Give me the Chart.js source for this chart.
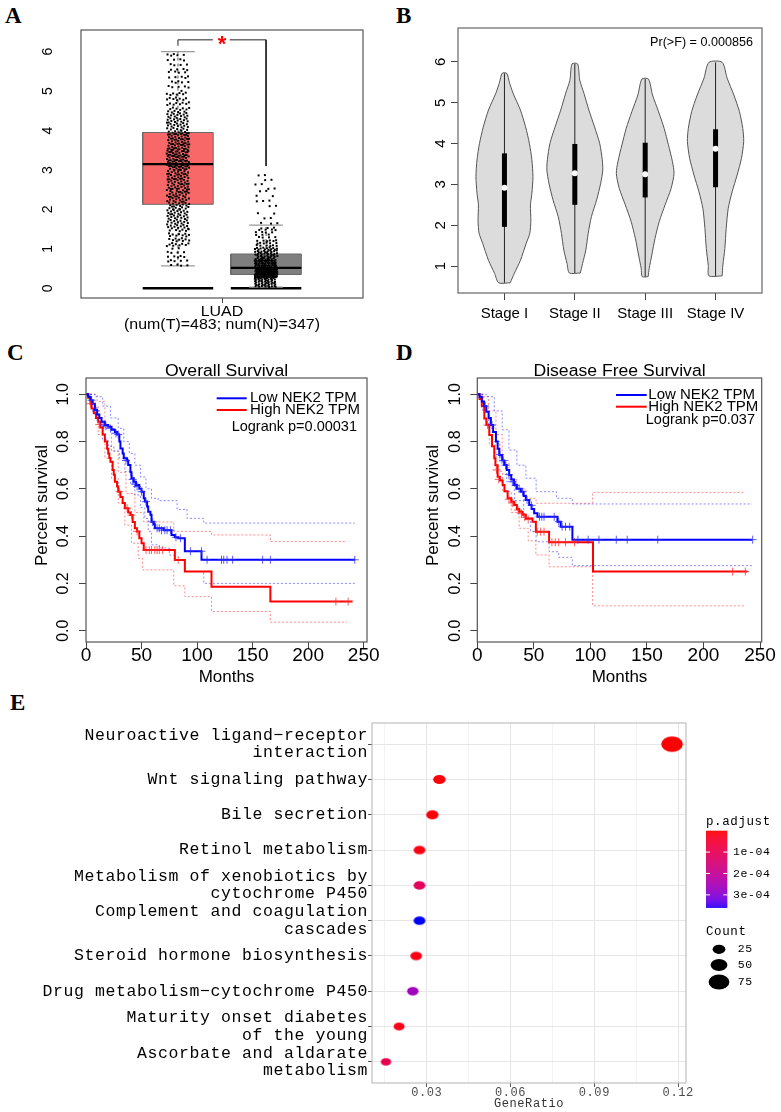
<!DOCTYPE html>
<html lang="en">
<head>
<meta charset="UTF-8" />
<title>NEK2 expression, survival and KEGG enrichment</title>
<script src="https://cdn.jsdelivr.net/npm/chart.js"></script>
<style>
  body { margin: 0; background: #fff; width: 781px; height: 1112px; position: relative; overflow: hidden; }
  canvas { position: absolute; }
  .tag { position: absolute; font: bold 23px "Liberation Serif", "DejaVu Serif", serif; line-height: 23px; color: #000; }
</style>
</head>
<body>
<div class="tag" style="left:5px;top:4px">A</div>
<div class="tag" style="left:396px;top:4px">B</div>
<div class="tag" style="left:7px;top:341px">C</div>
<div class="tag" style="left:396px;top:341px">D</div>
<div class="tag" style="left:10px;top:691px">E</div>

<canvas id="boxChart" width="390" height="340" style="left:0;top:0"></canvas>
<canvas id="violinChart" width="391" height="340" style="left:390px;top:0"></canvas>
<canvas id="osChart" width="390" height="350" style="left:0;top:340px"></canvas>
<canvas id="dfsChart" width="391" height="350" style="left:390px;top:340px"></canvas>
<canvas id="keggChart" width="781" height="422" style="left:0;top:690px"></canvas>

<script>
// ---------- A: NEK2 expression, LUAD tumour vs normal ----------
const groupLabel = 'LUAD';
const groupSub = '(num(T)=483; num(N)=347)';
// jitter points given as counts per expression bin
const tumorEdges = [0.57, 1, 1.5, 2, 2.5, 3, 3.5, 4, 4.5, 5, 5.5, 6.0];
const tumorCounts = [18, 35, 50, 55, 60, 80, 68, 50, 30, 20, 17];
const normalEdges = [0.03, 0.25, 0.5, 0.75, 1, 1.25, 1.5, 2, 2.5, 2.95];
const normalCounts = [45, 120, 70, 45, 25, 15, 10, 9, 8];
// min, q1, median, q3, max
const tumorBox = [0.57, 2.13, 3.15, 3.95, 6.0];
const normalBox = [0.03, 0.35, 0.52, 0.87, 1.6];
const sigLevel = 6.3;

// ---------- B: expression by stage ----------
const stages = ['Stage I', 'Stage II', 'Stage III', 'Stage IV'];
const vioY = [
  [0.59, 0.82, 1.14, 1.56, 1.8, 2.1, 2.5, 2.78, 3.19, 3.6, 4.0, 4.41, 4.82, 5.23, 5.5, 5.72],
  [0.83, 1.06, 1.39, 1.8, 2.21, 2.62, 3.03, 3.35, 3.6, 4.0, 4.41, 4.82, 5.23, 5.55, 5.95],
  [0.74, 0.94, 1.27, 1.68, 2.09, 2.5, 2.9, 3.27, 3.56, 3.97, 4.37, 4.78, 5.19, 5.58],
  [0.76, 1.02, 1.43, 1.92, 2.41, 2.82, 3.23, 3.64, 4.05, 4.37, 4.78, 5.19, 5.6, 5.99]
];
const vioW = [
  [0.082, 0.14, 0.227, 0.31, 0.36, 0.375, 0.37, 0.39, 0.405, 0.39, 0.355, 0.30, 0.227, 0.123, 0.07, 0.033],
  [0.078, 0.11, 0.156, 0.19, 0.236, 0.31, 0.368, 0.397, 0.39, 0.354, 0.28, 0.2, 0.13, 0.07, 0.04],
  [0.042, 0.057, 0.094, 0.14, 0.2, 0.283, 0.368, 0.41, 0.387, 0.33, 0.27, 0.19, 0.104, 0.047],
  [0.094, 0.104, 0.132, 0.151, 0.18, 0.236, 0.307, 0.368, 0.40, 0.387, 0.34, 0.26, 0.165, 0.094]
];
const stageQ1 = [1.96, 2.5, 2.68, 2.93];
const stageMed = [2.92, 3.27, 3.25, 3.87];
const stageQ3 = [3.76, 3.99, 4.02, 4.35];
const stageP = 'Pr(>F) = 0.000856';

// ---------- C: overall survival ----------
const osLow = [[0,1],[2,0.99],[4,0.975],[6,0.96],[8,0.934],[10,0.915],[12,0.9],[14,0.884],[17,0.87],[20,0.863],[23,0.85],[26,0.84],[28,0.83],[30,0.8],[31,0.771],[33,0.75],[34,0.729],[37,0.72],[38,0.701],[40,0.67],[41,0.645],[43,0.63],[45,0.616],[48,0.6],[50,0.588],[52,0.56],[53,0.546],[55,0.525],[56,0.503],[58,0.49],[59,0.461],[61,0.45],[62,0.433],[70,0.425],[77,0.405],[80,0.395],[83,0.391],[89,0.336],[104,0.3],[242,0.3]];
const osHigh = [[0,1],[2,0.985],[4,0.96],[5,0.94],[7,0.92],[9,0.9],[11,0.884],[13,0.86],[15,0.83],[17,0.8],[19,0.77],[20,0.75],[21,0.73],[22,0.715],[24,0.68],[25,0.66],[26,0.63],[28,0.61],[29,0.588],[31,0.565],[33,0.54],[35,0.518],[38,0.5],[40,0.489],[42,0.46],[44,0.433],[46,0.42],[48,0.391],[50,0.37],[52,0.341],[80,0.299],[89,0.25],[113,0.186],[166,0.123],[240,0.123]];
const osLowUp = [[0,1],[8,0.99],[15,0.95],[22,0.9],[29,0.856],[34,0.8],[39,0.75],[44,0.7],[49,0.65],[54,0.6],[59,0.56],[65,0.55],[82,0.513],[91,0.475],[106,0.455],[242,0.455]];
const osLowDn = [[0,1],[5,0.95],[10,0.88],[15,0.81],[20,0.78],[25,0.76],[30,0.73],[35,0.673],[40,0.62],[44,0.574],[49,0.52],[53,0.475],[56,0.42],[59,0.363],[66,0.35],[75,0.32],[80,0.3],[89,0.25],[106,0.2],[242,0.2]];
const osHighUp = [[0,1],[10,0.97],[17,0.86],[23,0.76],[29,0.67],[36,0.58],[44,0.5],[52,0.46],[79,0.42],[113,0.405],[166,0.377],[235,0.377]];
const osHighDn = [[0,1],[5,0.95],[11,0.83],[17,0.73],[23,0.645],[29,0.54],[35,0.447],[41,0.37],[47,0.306],[51,0.257],[79,0.19],[89,0.144],[113,0.081],[166,0.036],[235,0.036]];
const osLowCens = [[5,0.975],[9,0.93],[16,0.87],[18,0.865],[22,0.855],[27,0.835],[29,0.83],[36,0.72],[42,0.64],[44,0.62],[46,0.61],[50,0.588],[54,0.546],[60,0.46],[64,0.433],[66,0.433],[68,0.425],[71,0.425],[73,0.425],[76,0.425],[81,0.395],[85,0.391],[94,0.336],[104,0.336],[109,0.3],[122,0.3],[124,0.3],[127,0.3],[132,0.3],[159,0.3],[166,0.3],[242,0.3]];
const osHighCens = [[4,0.96],[12,0.872],[30,0.588],[37,0.518],[41,0.489],[46,0.42],[54,0.341],[57,0.341],[59,0.341],[62,0.341],[64,0.341],[66,0.341],[69,0.341],[83,0.299],[225,0.123],[236,0.123]];
const osP = 'Logrank p=0.00031';

// ---------- D: disease free survival ----------
const dfsLow = [[0,1],[2,0.99],[4,0.97],[6,0.95],[8,0.926],[10,0.9],[12,0.87],[14,0.84],[16.5,0.8],[18,0.77],[19.4,0.743],[22,0.72],[23.8,0.701],[26,0.68],[28.2,0.659],[30,0.64],[32.6,0.616],[35,0.6],[38.5,0.588],[41,0.57],[42.9,0.553],[45.9,0.532],[48,0.515],[50.3,0.497],[53.2,0.482],[70.9,0.461],[73.8,0.44],[84.1,0.385],[243,0.385]];
const dfsHigh = [[0,1],[2,0.98],[4,0.95],[6.2,0.898],[8,0.87],[10.6,0.828],[13,0.78],[15,0.729],[16,0.7],[18,0.651],[20,0.635],[22.4,0.616],[24,0.59],[26.8,0.56],[30,0.545],[32.6,0.532],[35,0.515],[37,0.503],[40,0.49],[42.9,0.475],[48.8,0.461],[51.8,0.419],[63.5,0.374],[102.3,0.25],[239,0.25]];
const dfsLowUp = [[0,1],[8,0.99],[15,0.93],[22,0.85],[28,0.764],[35,0.7],[43,0.645],[52,0.588],[70,0.56],[84,0.536],[243,0.536]];
const dfsLowDn = [[0,1],[5,0.93],[10,0.86],[13.5,0.8],[20,0.71],[26,0.63],[33,0.55],[41,0.475],[47,0.42],[52,0.376],[63.5,0.334],[72,0.31],[84,0.275],[243,0.275]];
const dfsHighUp = [[0,1],[5,0.99],[10,0.93],[16.5,0.83],[22,0.72],[28,0.64],[35,0.6],[43,0.56],[52,0.539],[102,0.585],[236,0.585]];
const dfsHighDn = [[0,1],[5,0.93],[10.6,0.786],[16.5,0.673],[22.4,0.588],[30,0.5],[37,0.433],[45,0.38],[51.8,0.32],[63.5,0.27],[102,0.105],[236,0.105]];
const dfsLowCens = [[7,0.95],[13,0.87],[20,0.745],[23,0.72],[25,0.7],[28,0.66],[31,0.63],[34,0.615],[37,0.6],[40,0.588],[44,0.553],[48,0.53],[55,0.482],[57,0.482],[59,0.482],[68,0.482],[72,0.461],[75,0.44],[78,0.44],[81.7,0.44],[89,0.385],[98,0.385],[107.6,0.385],[122.9,0.385],[132.6,0.385],[159.6,0.385],[243.5,0.385]];
const dfsHighCens = [[9,0.87],[17,0.68],[19,0.64],[28,0.556],[31,0.54],[36,0.51],[39,0.495],[42,0.48],[45,0.47],[53,0.419],[56,0.419],[59,0.419],[66,0.374],[69,0.374],[72,0.374],[78,0.374],[86,0.374],[225.8,0.25],[237,0.25]];
const dfsP = 'Logrank p=0.037';
const kmLegend = ['Low NEK2 TPM', 'High NEK2 TPM'];
const monthTicks = [0, 50, 100, 150, 200, 250];
const survTicks = [0, 0.2, 0.4, 0.6, 0.8, 1.0];

// ---------- E: KEGG enrichment ----------
const pathways = [
  ['Neuroactive ligand\u2212receptor', 'interaction'],
  'Wnt signaling pathway',
  'Bile secretion',
  'Retinol metabolism',
  ['Metabolism of xenobiotics by', 'cytochrome P450'],
  ['Complement and coagulation', 'cascades'],
  'Steroid hormone biosynthesis',
  'Drug metabolism\u2212cytochrome P450',
  ['Maturity onset diabetes', 'of the young'],
  ['Ascorbate and aldarate', 'metabolism']
];
const geneRatio = [0.1178, 0.0345, 0.032, 0.0274, 0.0274, 0.0274, 0.0262, 0.025, 0.0201, 0.0154];
const geneCount = [80, 23, 22, 19, 19, 19, 18, 17, 14, 10];
const pAdjust = [2e-7, 4e-6, 6e-6, 1.2e-5, 1.1e-4, 3.6e-4, 1.5e-5, 2.6e-4, 1.5e-5, 9e-5];
const ratioTicks = [0.015, 0.03, 0.045, 0.06, 0.075, 0.09, 0.105, 0.12];
const pLegendTicks = [1e-4, 2e-4, 3e-4];
const countLegend = [25, 50, 75];

// ---------- helpers ----------
const SANS = '"Liberation Sans", Arial, sans-serif';
const MONO = '"Liberation Mono", "DejaVu Sans Mono", monospace';

function txt(ctx, s, x, y, o = {}) {
  ctx.save();
  ctx.translate(x, y);
  if (o.rot) ctx.rotate(o.rot);
  if (o.sx) ctx.scale(o.sx, 1);
  ctx.font = (o.bold ? 'bold ' : '') + (o.size || 14) + 'px ' + (o.family || SANS);
  ctx.fillStyle = o.color || '#000';
  ctx.textAlign = o.align || 'center';
  ctx.textBaseline = o.base || 'middle';
  ctx.fillText(s, 0, 0);
  ctx.restore();
}

function frame(ctx, ca, color, lw) {
  ctx.save();
  ctx.strokeStyle = color;
  ctx.lineWidth = lw;
  ctx.strokeRect(ca.left, ca.top, ca.right - ca.left, ca.bottom - ca.top);
  ctx.restore();
}

const xy = arr => arr.map(p => ({x: p[0], y: p[1]}));
const ln = (data, color, width, more) => Object.assign({data, borderColor: color, borderWidth: width, pointRadius: 0, fill: false, tension: 0}, more || {});
const dots = (data, color, r, more) => Object.assign({data, showLine: false, pointRadius: r, pointBackgroundColor: color, pointBorderWidth: 0}, more || {});

function rAxis(min, max, ticks, size, tl, horiz) {
  return {
    type: 'linear', min, max,
    afterBuildTicks: s => { s.ticks = ticks.map(v => ({value: v})); },
    afterFit: s => { if (horiz) s.height = size; else s.width = size; },
    ticks: {display: false},
    grid: {drawOnChartArea: false, drawTicks: tl > 0, tickLength: tl, tickColor: '#444', color: '#444'},
    border: {display: false}
  };
}

function makeChart(id, padding, scales, datasets, deco, before) {
  const plug = {id: 'deco_' + id, afterDraw: deco};
  if (before) plug.beforeDraw = before;
  return new Chart(document.getElementById(id), {
    type: 'line',
    data: {datasets},
    options: {
      responsive: false, animation: false, events: [],
      layout: {padding},
      plugins: {legend: {display: false}, tooltip: {enabled: false}},
      scales
    },
    plugins: [plug]
  });
}

// ---------- A ----------
function spread(edges, counts, cx, halfW) {
  const pts = [];
  counts.forEach((n, b) => {
    for (let i = 0; i < n; i++) {
      const u = (i * 0.7548776662 + 0.5 + b * 0.13) % 1;
      const w = (i * 0.5698402910 + 0.5 + b * 0.37) % 1;
      pts.push({x: cx + (w * 2 - 1) * halfW, y: edges[b] + (edges[b + 1] - edges[b]) * u});
    }
  });
  return pts;
}

const groupX = [1.375, 2.625];
const boxStats = [tumorBox, normalBox];
const boxFill = ['#f96868', '#7f7f7f'];
const aSets = [
  dots(spread(tumorEdges, tumorCounts, groupX[0], 0.16), '#000', 1.4, {pointStyle: 'rect', order: 1}),
  dots(spread(normalEdges, normalCounts, groupX[1], 0.16), '#000', 1.4, {pointStyle: 'rect', order: 1})
];
boxStats.forEach((b, i) => {
  const c = groupX[i];
  aSets.push(ln([{x: c - 0.5, y: b[2]}, {x: c + 0.5, y: b[2]}], '#000', 2.2, {order: 0}));
  aSets.push(ln([{x: c - 0.5, y: b[1]}, {x: c + 0.5, y: b[1]}, {x: c + 0.5, y: b[3]}, {x: c - 0.5, y: b[3]}, {x: c - 0.5, y: b[1]}],
    '#6a6a6a', 1, {fill: 'shape', backgroundColor: boxFill[i], order: 6}));
  aSets.push(ln([{x: c, y: b[3]}, {x: c, y: b[4]}], '#555', 1, {borderDash: [3, 3], order: 5}));
  aSets.push(ln([{x: c, y: b[0]}, {x: c, y: b[1]}], '#555', 1, {borderDash: [3, 3], order: 5}));
  aSets.push(ln([{x: c - 0.24, y: b[4]}, {x: c + 0.24, y: b[4]}], '#9a9a9a', 1.2, {order: 4}));
  aSets.push(ln([{x: c - 0.24, y: b[0]}, {x: c + 0.24, y: b[0]}], '#9a9a9a', 1.2, {order: 4}));
  aSets.push(ln([{x: c - 0.5, y: 0}, {x: c + 0.5, y: 0}], '#000', 2.5, {order: 4}));
});
// significance bracket
aSets.push(ln([{x: groupX[0], y: tumorBox[4] + 0.15}, {x: groupX[0], y: sigLevel}, {x: 1.87, y: sigLevel}], '#222', 1, {order: 3}));
aSets.push(ln([{x: 2.11, y: sigLevel}, {x: groupX[1], y: sigLevel}, {x: groupX[1], y: 3.1}], '#222', 1, {order: 3}));

makeChart('boxChart', {top: 30, right: 27, left: 0, bottom: 0},
  {x: rAxis(0, 4, [2], 42, 5, true), y: rAxis(-0.246, 6.55, [0, 1, 2, 3, 4, 5, 6], 81, 0, false)},
  aSets,
  ch => {
    const {ctx, chartArea: ca, scales: {x, y}} = ch;
    frame(ctx, ca, '#555', 1.2);
    y.ticks.forEach(t => txt(ctx, String(t.value), ca.left - 33, y.getPixelForValue(t.value), {rot: -Math.PI / 2, size: 14}));
    const cx = x.getPixelForValue(2);
    txt(ctx, groupLabel, cx, ca.bottom + 14, {size: 14, sx: 1.14});
    txt(ctx, groupSub, cx, ca.bottom + 27, {size: 14, sx: 1.14});
    txt(ctx, '*', cx, y.getPixelForValue(sigLevel) + 11, {size: 22, color: '#ff0000', base: 'alphabetic', bold: true});
  });

// ---------- B ----------
const bSets = [];
stages.forEach((s, i) => {
  const c = i + 1, ys = vioY[i], ws = vioW[i];
  const right = ys.map((v, k) => ({x: c + ws[k], y: v}));
  const left = ys.map((v, k) => ({x: c - ws[k], y: v})).reverse();
  const outline = right.concat(left, [right[0]]);
  bSets.push(ln(outline, '#555', 1, {fill: 'shape', backgroundColor: '#dcdcdc', tension: 0.25, order: 5}));
  bSets.push(ln([{x: c, y: ys[0]}, {x: c, y: ys[ys.length - 1]}], '#222', 1, {order: 4}));
  bSets.push(ln([{x: c, y: stageQ1[i]}, {x: c, y: stageQ3[i]}], '#000', 5, {order: 3, borderCapStyle: 'butt'}));
  bSets.push(dots([{x: c, y: stageMed[i]}], '#fff', 3, {order: 1}));
});
makeChart('violinChart', {top: 28, right: 19, left: 0, bottom: 0},
  {x: rAxis(0.34, 4.66, [1, 2, 3, 4], 47, 7, true), y: rAxis(0.34, 6.83, [1, 2, 3, 4, 5, 6], 68, 7, false)},
  bSets,
  ch => {
    const {ctx, chartArea: ca, scales: {x, y}} = ch;
    frame(ctx, ca, '#666', 1.2);
    y.ticks.forEach(t => txt(ctx, String(t.value), ca.left - 17, y.getPixelForValue(t.value), {rot: -Math.PI / 2, size: 15}));
    x.ticks.forEach(t => txt(ctx, stages[t.value - 1], x.getPixelForValue(t.value), ca.bottom + 20.5, {size: 15}));
    txt(ctx, stageP, ca.right - 9, ca.top + 15, {size: 12, align: 'right', sx: 1.05});
  });

// ---------- C & D ----------
function kmSets(low, high, lowUp, lowDn, highUp, highDn, lowC, highC) {
  const blue = '#0000ff', red = '#ff0000';
  const ciB = 'rgba(60,60,255,0.6)', ciR = 'rgba(255,60,60,0.6)';
  return [
    ln(xy(low), blue, 2, {stepped: 'before', order: 2}),
    ln(xy(high), red, 2, {stepped: 'before', order: 3}),
    ln(xy(lowUp), ciB, 1, {stepped: 'before', borderDash: [2, 2], order: 5}),
    ln(xy(lowDn), ciB, 1, {stepped: 'before', borderDash: [2, 2], order: 5}),
    ln(xy(highUp), ciR, 1, {stepped: 'before', borderDash: [2, 2], order: 5}),
    ln(xy(highDn), ciR, 1, {stepped: 'before', borderDash: [2, 2], order: 5}),
    dots(xy(lowC), 'rgba(40,40,255,0.75)', 4, {pointStyle: 'cross', pointBorderWidth: 1, pointBorderColor: 'rgba(40,40,255,0.75)', order: 1}),
    dots(xy(highC), 'rgba(255,40,40,0.75)', 4, {pointStyle: 'cross', pointBorderWidth: 1, pointBorderColor: 'rgba(255,40,40,0.75)', order: 1})
  ];
}

function kmDeco(title, pText, lg) {
  return ch => {
    const {ctx, chartArea: ca, scales: {x, y}} = ch;
    frame(ctx, ca, '#555', 1.2);
    y.ticks.forEach(t => txt(ctx, t.value.toFixed(1), ca.left - 22, y.getPixelForValue(t.value), {rot: -Math.PI / 2, size: 16}));
    x.ticks.forEach(t => txt(ctx, String(t.value), x.getPixelForValue(t.value), ca.bottom + 13.5, {size: 19}));
    const mid = (ca.left + ca.right) / 2;
    txt(ctx, title, mid, ca.top - 2.5, {size: 16, base: 'alphabetic', sx: 1.1});
    txt(ctx, 'Months', mid, ca.bottom + 35, {size: 17});
    txt(ctx, 'Percent survival', ca.left - 43.5, (ca.top + ca.bottom) / 2 - 4.5, {rot: -Math.PI / 2, size: 17});
    ['#0000ff', '#ff0000'].forEach((c, i) => {
      const yy = ca.top + lg.y[i];
      ctx.save();
      ctx.strokeStyle = c; ctx.lineWidth = 2;
      ctx.beginPath(); ctx.moveTo(ca.left + lg.x0, yy); ctx.lineTo(ca.left + lg.x1, yy); ctx.stroke();
      ctx.restore();
      txt(ctx, kmLegend[i], ca.left + lg.tx, yy, {size: 15, align: 'left'});
    });
    txt(ctx, pText, ca.left + lg.px, ca.top + lg.py, {size: 14.5, align: 'right'});
  };
}

makeChart('osChart', {top: 38, right: 23, left: 0, bottom: 0},
  {x: rAxis(0, 253, monthTicks, 48, 7, true), y: rAxis(-0.048, 1.069, survTicks, 86, 7, false)},
  kmSets(osLow, osHigh, osLowUp, osLowDn, osHighUp, osHighDn, osLowCens, osHighCens),
  kmDeco('Overall Survival', osP, {x0: 130.7, x1: 160.7, y: [20.3, 32], tx: 164, px: 271, py: 49.3}));

makeChart('dfsChart', {top: 38, right: 19.3, left: 0, bottom: 0},
  {x: rAxis(0, 251.5, monthTicks, 48, 7, true), y: rAxis(-0.048, 1.069, survTicks, 87.3, 7, false)},
  kmSets(dfsLow, dfsHigh, dfsLowUp, dfsLowDn, dfsHighUp, dfsHighDn, dfsLowCens, dfsHighCens),
  kmDeco('Disease Free Survival', dfsP, {x0: 138.7, x1: 169.4, y: [17, 28.7], tx: 171, px: 277.7, py: 42}));

// ---------- E ----------
const labRed = [53.24, 80.09, 67.2], labBlue = [32.3, 79.19, -107.86];
function lab2rgb(L, a, b) {
  let y = (L + 16) / 116, x = a / 500 + y, z = y - b / 200;
  const f = t => (t * t * t > 0.008856 ? t * t * t : (t - 16 / 116) / 7.787);
  x = 0.95047 * f(x); y = f(y); z = 1.08883 * f(z);
  const r = x * 3.2406 - y * 1.5372 - z * 0.4986;
  const g = -x * 0.9689 + y * 1.8758 + z * 0.0415;
  const bl = x * 0.0557 - y * 0.2040 + z * 1.0570;
  const gm = c => Math.round(Math.max(0, Math.min(1, c > 0.0031308 ? 1.055 * Math.pow(c, 1 / 2.4) - 0.055 : 12.92 * c)) * 255);
  return 'rgb(' + gm(r) + ',' + gm(g) + ',' + gm(bl) + ')';
}
const pLow = Math.min(...pAdjust), pHigh = Math.max(...pAdjust);
function pColor(p) {
  const t = Math.max(0, Math.min(1, (p - pLow) / (pHigh - pLow)));
  return lab2rgb(...labRed.map((v, i) => v + (labBlue[i] - v) * t));
}
const rx = n => 4.4 + 0.08 * n;
const ryOf = n => rx(n) * 0.72;
function ellipseImg(n, color) {
  const a = rx(n), b = ryOf(n);
  const cv = document.createElement('canvas');
  cv.width = Math.ceil(2 * a + 2); cv.height = Math.ceil(2 * b + 2);
  const c = cv.getContext('2d');
  c.fillStyle = color;
  c.beginPath(); c.ellipse(cv.width / 2, cv.height / 2, a, b, 0, 0, Math.PI * 2); c.fill();
  return cv;
}
const isMajor = v => Math.abs(v / 0.03 - Math.round(v / 0.03)) < 1e-6;

makeChart('keggChart', {top: 33, right: 95, left: 0, bottom: 0},
  {
    x: {
      type: 'linear', min: 0.0104, max: 0.1228,
      afterBuildTicks: s => { s.ticks = ratioTicks.map(v => ({value: v})); },
      afterFit: s => { s.height = 29; },
      ticks: {callback: v => (isMajor(v) ? v.toFixed(2) : ''), font: {family: MONO, size: 12}, color: '#4d4d4d', padding: -1, maxRotation: 0, autoSkip: false},
      grid: {color: c => (isMajor(c.tick.value) ? '#e6e6e6' : '#f3f3f3'), tickColor: c => (isMajor(c.tick.value) ? '#555' : 'rgba(0,0,0,0)'), tickLength: 4},
      border: {display: false}
    },
    y: {
      type: 'linear', reverse: true, min: 0.4, max: 10.6,
      afterBuildTicks: s => { s.ticks = pathways.map((p, i) => ({value: i + 1})); },
      afterFit: s => { s.width = 372; },
      ticks: {callback: v => pathways[Math.round(v) - 1], font: {family: MONO, size: 16.5, lineHeight: 1.05}, color: '#000', padding: 0, autoSkip: false},
      grid: {color: '#e6e6e6', tickColor: '#555', tickLength: 4},
      border: {display: false}
    }
  },
  [dots(geneRatio.map((r, i) => ({x: r, y: i + 1})), '#000', 5,
    {pointStyle: geneRatio.map((r, i) => ellipseImg(geneCount[i], pColor(pAdjust[i])))})],
  ch => {
    const {ctx, chartArea: ca} = ch;
    frame(ctx, ca, '#b3b3b3', 1);
    txt(ctx, 'GeneRatio', (ca.left + ca.right) / 2, 414, {family: MONO, size: 12, color: '#333'});
    // colour bar
    const bx = 706, by = 140.7, bw = 21.3, bh = 77;
    txt(ctx, 'p.adjust', bx, 131.7, {family: MONO, size: 12.5, align: 'left', color: '#000'});
    for (let k = 0; k < bh; k++) {
      ctx.fillStyle = pColor(pLow + (pHigh - pLow) * k / bh);
      ctx.fillRect(bx, by + k, bw, 1.2);
    }
    pLegendTicks.forEach(p => {
      const yy = by + (p - pLow) / (pHigh - pLow) * bh;
      ctx.fillStyle = '#fff';
      ctx.fillRect(bx, yy - 0.5, 4, 1);
      ctx.fillRect(bx + bw - 4, yy - 0.5, 4, 1);
      txt(ctx, p.toExponential(0).replace('e-', 'e-0'), bx + 27, yy, {family: MONO, size: 11.5, align: 'left', color: '#000'});
    });
    // size legend
    txt(ctx, 'Count', bx, 242, {family: MONO, size: 12.5, align: 'left', color: '#000'});
    countLegend.forEach((n, i) => {
      const yy = [259.3, 275, 292][i];
      ctx.fillStyle = '#000';
      ctx.beginPath(); ctx.ellipse(719, yy, rx(n), ryOf(n), 0, 0, Math.PI * 2); ctx.fill();
      txt(ctx, String(n), 737.7, yy, {family: MONO, size: 11.5, align: 'left', color: '#000'});
    });
  },
  ch => { ch.ctx.letterSpacing = '0.6px'; });
</script>
</body>
</html>
